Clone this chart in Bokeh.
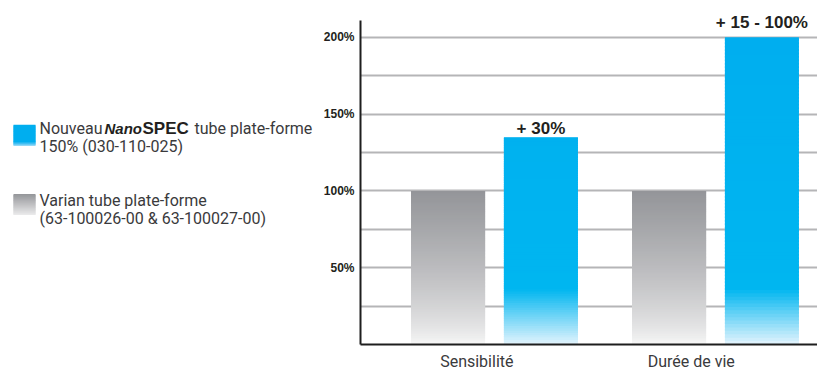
import numpy as np
from bokeh.plotting import figure
from bokeh.layouts import row
from bokeh.models import Range1d, FixedTicker, PrintfTickFormatter, Label
from bokeh.core.properties import value
from bokeh.embed import file_html
from bokeh.resources import INLINE

# ---------------- data ----------------
categories = ["Sensibilité", "Durée de vie"]
varian = [100, 100]
nanospec = [135, 200]
gain_labels = ["+ 30%", "+ 15 - 100%"]
y_ticks = [50, 100, 150, 200]
grid_ticks = [25, 50, 75, 100, 125, 150, 175, 200]
legend_new_runs = ["Nouveau", "Nano", "SPEC", "tube plate-forme"]
legend_new_line2 = "150% (030-110-025)"
legend_old_line1 = "Varian tube plate-forme"
legend_old_line2 = "(63-100026-00 & 63-100027-00)"

NARROW = "Roboto"
SANS = "Liberation Sans"
TXT = "#3a3a3c"

GRAY_TOP = np.array([148, 149, 153])
GRAY_BOT = np.array([250, 250, 250])
BLUE_TOP = np.array([0, 174, 239])
BLUE_MID = np.array([0, 182, 240])
BLUE_BOT = np.array([228, 244, 253])


def hexc(c):
    c = np.clip(np.round(c), 0, 255).astype(int)
    return "#%02x%02x%02x" % tuple(c)


def gray_color(frac):
    f = frac ** 0.7
    return hexc(GRAY_BOT + (GRAY_TOP - GRAY_BOT) * f)


def blue_color(v, fade=36.0, vmax=200.0):
    if v >= fade:
        t = (v - fade) / (vmax - fade)
        return hexc(BLUE_MID + (BLUE_TOP - BLUE_MID) * t)
    t = 1 - v / fade
    return hexc(BLUE_MID + (BLUE_BOT - BLUE_MID) * t)


def slices(top_value, n):
    """bottom/top of overlapping slices so no hairline gaps show"""
    edges = np.linspace(0, top_value, n + 1)
    bottoms = edges[:-1]
    tops = np.minimum(edges[1:] + 1.2, top_value)
    mids = (edges[:-1] + edges[1:]) / 2
    return bottoms, tops, mids


# ---------------- chart ----------------
p = figure(width=497, height=373, output_backend="svg", toolbar_location=None,
           x_range=Range1d(-0.6063, 1.4615), y_range=Range1d(0, 218.8),
           min_border_left=40, min_border_right=0, min_border_top=8,
           min_border_bottom=27)
p.outline_line_color = None
p.background_fill_color = "white"
p.border_fill_color = "white"

offset = 0.21
width = 0.335
n = 90
for i, cat in enumerate(categories):
    xg = i - offset
    xb = i + offset
    b, t, mids = slices(varian[i], n)
    cols = [gray_color(m / varian[i]) for m in mids]
    p.vbar(x=[xg] * n, width=width, bottom=b, top=t, fill_color=cols, line_color=None)
    b, t, mids = slices(nanospec[i], n)
    cols = [blue_color(m) for m in mids]
    p.vbar(x=[xb] * n, width=width, bottom=b, top=t, fill_color=cols, line_color=None)

gain_offsets = [9, 15]
for i, lab in enumerate(gain_labels):
    p.add_layout(Label(x=i + offset, y=nanospec[i], text=lab, text_align="center",
                       text_baseline="alphabetic", y_offset=gain_offsets[i],
                       text_font=SANS, text_font_style="bold",
                       text_font_size="17px", text_color="#231f20"))

# y axis
p.yaxis.ticker = FixedTicker(ticks=y_ticks)
p.yaxis.formatter = PrintfTickFormatter(format="%d%%")
p.yaxis.bounds = (0, 211)
p.yaxis.major_tick_out = 0
p.yaxis.major_tick_in = 0
p.yaxis.minor_tick_out = 0
p.yaxis.minor_tick_in = 0
p.yaxis.axis_line_width = 2
p.yaxis.axis_line_color = "#1e1e1e"
p.yaxis.major_label_standoff = 6
p.yaxis.major_label_text_font = SANS
p.yaxis.major_label_text_font_style = "bold"
p.yaxis.major_label_text_font_size = "12px"
p.yaxis.major_label_text_color = "#231f20"

# x axis
label_shift = [-0.08, -0.11]
label_pos = [i + s for i, s in enumerate(label_shift)]
p.xaxis.ticker = FixedTicker(ticks=label_pos)
p.xaxis.major_label_overrides = {label_pos[i]: categories[i] for i in range(len(categories))}
p.xaxis.major_tick_out = 0
p.xaxis.major_tick_in = 0
p.xaxis.minor_tick_out = 0
p.xaxis.minor_tick_in = 0
p.xaxis.axis_line_width = 2
p.xaxis.axis_line_color = "#1e1e1e"
p.xaxis.major_label_standoff = 7
p.xaxis.major_label_text_font = NARROW
p.xaxis.major_label_text_font_size = "16px"
p.xaxis.major_label_text_color = TXT

p.xgrid.visible = False
p.ygrid.ticker = FixedTicker(ticks=grid_ticks)
p.ygrid.grid_line_color = "#b5b5b7"
p.ygrid.grid_line_width = 2

# ---------------- legend panel ----------------
leg = figure(width=320, height=373, output_backend="svg", toolbar_location=None,
             x_range=Range1d(0, 320), y_range=Range1d(373, 0),
             x_axis_type=None, y_axis_type=None, min_border=0)
leg.outline_line_color = None
leg.grid.visible = False
leg.border_fill_color = "white"

m = 24
# blue swatch
e = np.linspace(129, 152, m + 1)
cols = []
for k in range(m):
    t = (e[k] - 129) / 23
    cols.append(hexc(BLUE_TOP) if t < 0.8 else hexc(BLUE_TOP + (np.array([150, 215, 248]) - BLUE_TOP) * (t - 0.8) / 0.2))
leg.quad(left=13, right=35, top=e[:-1], bottom=np.minimum(e[1:] + 1.0, 152), fill_color=cols, line_color=None)
# gray swatch
e = np.linspace(206, 229, m + 1)
g0 = np.array([150, 151, 155])
g1 = np.array([236, 236, 237])
cols = [hexc(g0 + (g1 - g0) * ((e[k] - 206) / 23)) for k in range(m)]
leg.quad(left=13, right=35, top=e[:-1], bottom=np.minimum(e[1:] + 1.0, 229), fill_color=cols, line_color=None)

run_x = [39, 104, 142, 194]
run_font = [NARROW, SANS, SANS, NARROW]
run_style = ["normal", "bold italic", "bold", "normal"]
run_size = ["16px", "15px", "17px", "16px"]
for k, txt in enumerate(legend_new_runs):
    leg.text(x=[run_x[k]], y=[133], text=[txt], text_font=value(run_font[k]),
             text_font_style=run_style[k], text_font_size=run_size[k],
             text_color="#231f20" if run_style[k] != "normal" else TXT,
             text_baseline="alphabetic", text_align="left")
leg.text(x=[39], y=[153], text=[legend_new_line2], text_font=value(NARROW),
         text_font_size="16px", text_color=TXT, text_baseline="alphabetic")
leg.text(x=[39], y=[213], text=[legend_old_line1], text_font=value(NARROW),
         text_font_size="16px", text_color=TXT, text_baseline="alphabetic")
leg.text(x=[39], y=[233], text=[legend_old_line2], text_font=value(NARROW),
         text_font_size="16px", text_color=TXT, text_baseline="alphabetic")

layout = row(leg, p)
open("out.html", "w").write(file_html(layout, INLINE))
